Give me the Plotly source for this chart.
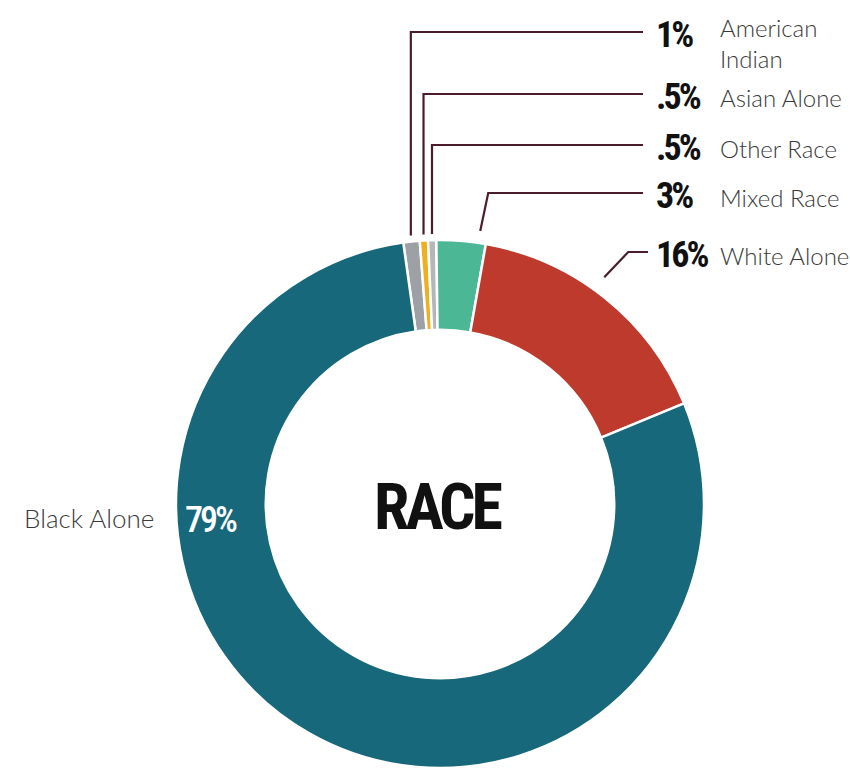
import math
import plotly.graph_objects as go

# ---- data ----
categories = ["American Indian", "Asian Alone", "Other Race", "Mixed Race", "White Alone", "Black Alone"]
shares = [1, 0.5, 0.5, 3, 16, 79]
pct_labels = ["1%", ".5%", ".5%", "3%", "16%", "79%"]
name_labels = ["American<br>Indian", "Asian Alone", "Other Race", "Mixed Race", "White Alone", "Black Alone"]
colors = ["#9da0a5", "#eeb022", "#b4b6ba", "#4cb794", "#bd3a2c", "#17687a"]

# ---- layout parameters ----
W, H = 850, 768
CX, CY, R = 440, 504, 264
HOLE = 0.66
ROTATION = -8
LINE_COLOR = "#4b1d2b"
NARROW = "Roboto Condensed, Roboto, Liberation Sans, sans-serif"
LIGHT = "Lato, Open Sans, sans-serif"

# leader layout for the five small/outside labels
label_y = [32, 94, 145, 193, 252]
anchor_frac = [0.5, 0.5, 0.5, 0.85, 0.45]
anchor_off = [6, 6, 6, 12, 16]
elbow_dx = [0, 0, 0, 8, 24]
line_end_x = [643, 643, 643, 643, 648]
pct_x = 654
name_x = 718


def px(x):
    return x / W


def py(y):
    return 1 - y / H


def tight(t, ls):
    return f'<span style="letter-spacing:{ls}px">{t}</span>'


fig = go.Figure(
    go.Pie(
        labels=categories,
        values=shares,
        marker=dict(colors=colors, line=dict(color="white", width=2.5)),
        hole=HOLE,
        sort=False,
        direction="clockwise",
        rotation=ROTATION,
        textinfo="none",
        showlegend=False,
        domain=dict(x=[px(CX - R), px(CX + R)], y=[0, (2 * R) / H]),
    )
)

# slice angles (degrees clockwise from 12 o'clock)
total = sum(shares)
angles = []
a = ROTATION
for v in shares:
    span = v / total * 360
    angles.append((a, a + span))
    a += span


def point(angle_deg, r):
    t = math.radians(angle_deg)
    return CX + r * math.sin(t), CY - r * math.cos(t)


shapes = []
annotations = []
for i in range(5):
    a0, a1 = angles[i]
    ang = a0 + anchor_frac[i] * (a1 - a0)
    x0, y0 = point(ang, R + anchor_off[i])
    x1, y1 = x0 + elbow_dx[i], label_y[i]
    x2 = line_end_x[i]
    path = f"M {px(x0)} {py(y0)} L {px(x1)} {py(y1)} L {px(x2)} {py(y1)}"
    shapes.append(dict(type="path", xref="paper", yref="paper", path=path,
                       line=dict(color=LINE_COLOR, width=2.2)))
    annotations.append(dict(x=px(pct_x), y=py(label_y[i] + 3), xref="paper", yref="paper",
                            text=tight(pct_labels[i], -3), showarrow=False, xanchor="left", yanchor="middle",
                            font=dict(family=NARROW, size=36, color="#111111", weight="bold")))
    ny = label_y[i] + 11 if i == 0 else label_y[i] + 4
    annotations.append(dict(x=px(name_x), y=py(ny), xref="paper", yref="paper",
                            text=name_labels[i], showarrow=False, xanchor="left", yanchor="middle",
                            align="left",
                            font=dict(family=LIGHT, size=24, color="#3a3a3a", weight=300)))

# Black Alone labels
bx, by = point(266, 230)
annotations.append(dict(x=px(bx), y=py(by), xref="paper", yref="paper", text=tight(pct_labels[5], -3),
                        showarrow=False, xanchor="center", yanchor="middle",
                        font=dict(family=NARROW, size=36, color="white", weight=500)))
annotations.append(dict(x=px(22), y=py(518), xref="paper", yref="paper", text=name_labels[5],
                        showarrow=False, xanchor="left", yanchor="middle",
                        font=dict(family=LIGHT, size=26, color="#3a3a3a", weight=300)))

# Center title
annotations.append(dict(x=px(437), y=py(507), xref="paper", yref="paper", text=tight("RACE", -4),
                        showarrow=False, xanchor="center", yanchor="middle",
                        font=dict(family=NARROW, size=64, color="#111111", weight="bold")))

fig.update_layout(
    width=W, height=H,
    margin=dict(l=0, r=0, t=0, b=0),
    paper_bgcolor="white", plot_bgcolor="white",
    shapes=shapes, annotations=annotations,
)

fig.write_html("out.html")
